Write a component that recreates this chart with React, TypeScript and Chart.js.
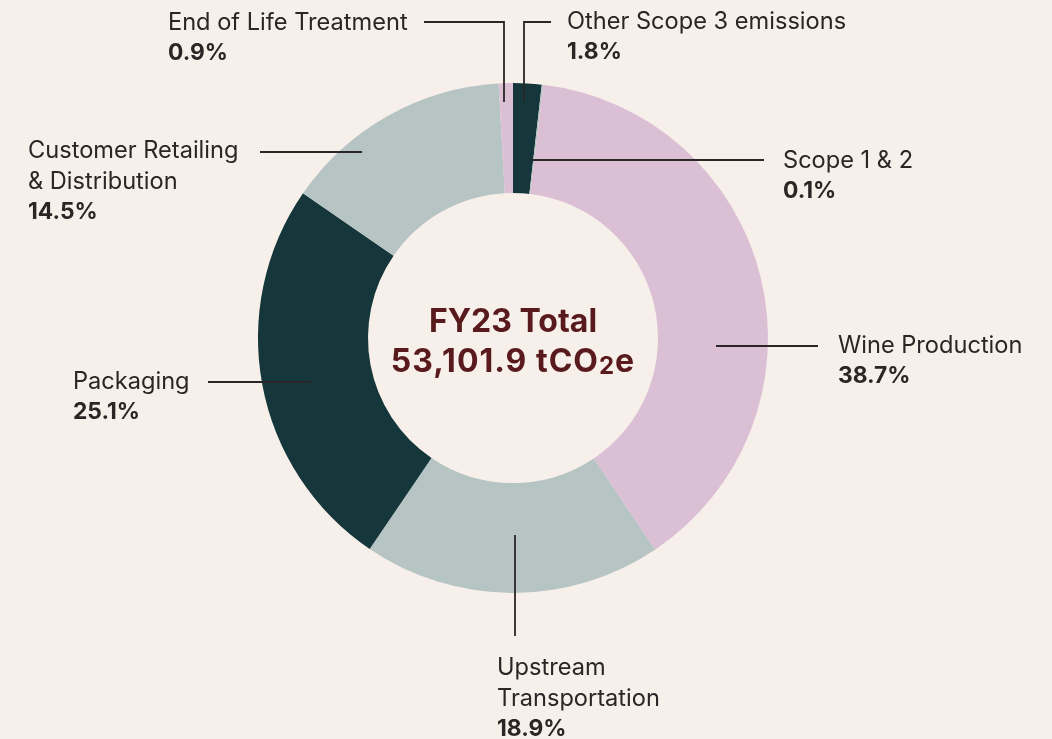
import React, { useEffect, useRef } from "react";
import { Chart, registerables } from "chart.js";

Chart.register(...registerables);

// ---- data ----
const categories = [
  "Other Scope 3 emissions",
  "Scope 1 & 2",
  "Wine Production",
  "Upstream Transportation",
  "Packaging",
  "Customer Retailing & Distribution",
  "End of Life Treatment",
];
const shares = [1.8, 0.1, 38.7, 18.9, 25.1, 14.5, 0.9];
const labelLines = [
  ["Other Scope 3 emissions"],
  ["Scope 1 & 2"],
  ["Wine Production"],
  ["Upstream", "Transportation"],
  ["Packaging"],
  ["Customer Retailing", "& Distribution"],
  ["End of Life Treatment"],
];
const centerTitle = "FY23 Total";
const centerValue = ["53,101.9 tCO", "2", "e"];

// ---- styles ----
const DARK = "#15373b";
const SAGE = "#b6c5c4";
const PINK = "#dbbfd4";
const sliceColors = [DARK, SAGE, PINK, SAGE, DARK, SAGE, PINK];
const BG = "#f7efe9";
const TEXT = "#2a2626";
const CENTER = "#581a1c";
const FONT = "Inter, 'Noto Sans', sans-serif";

// label layout, as offsets from the doughnut centre: text position and leader polyline
const labelLayout = [
  { tx: 54, ty: -316, line: [[38, -316], [11, -316], [11, -236]] },
  { tx: 270, ty: -177, line: [[251, -178], [18, -178]] },
  { tx: 325, ty: 8, line: [[305, 8], [203, 8]] },
  { tx: -16, ty: 330, line: [[2, 298], [2, 197]] },
  { tx: -440, ty: 44, line: [[-305, 44], [-202, 44]] },
  { tx: -485, ty: -187, line: [[-253, -186], [-151, -186]] },
  { tx: -345, ty: -315, line: [[-89, -316], [-9, -316], [-9, -236]] },
];
const LINE_H = 30.5;

const labelPlugin = {
  id: "leaderLabels",
  afterDraw(chart: any) {
    const ctx = chart.ctx as CanvasRenderingContext2D;
    const meta = chart.getDatasetMeta(0);
    const arc = meta.data[0];
    if (!arc) return;
    const cx = arc.x;
    const cy = arc.y;
    ctx.save();
    ctx.strokeStyle = TEXT;
    ctx.lineWidth = 1.8;
    ctx.textBaseline = "middle";
    ctx.textAlign = "left";
    labelLayout.forEach((l, i) => {
      ctx.beginPath();
      l.line.forEach(([dx, dy], k) => {
        if (k === 0) ctx.moveTo(cx + dx, cy + dy);
        else ctx.lineTo(cx + dx, cy + dy);
      });
      ctx.stroke();
      ctx.fillStyle = TEXT;
      const lines = labelLines[i];
      ctx.font = `400 23.6px ${FONT}`;
      lines.forEach((t, k) => {
        ctx.fillText(t, cx + l.tx, cy + l.ty + k * LINE_H);
      });
      ctx.font = `700 22.8px ${FONT}`;
      ctx.fillText(
        shares[i].toFixed(1) + "%",
        cx + l.tx,
        cy + l.ty + lines.length * LINE_H
      );
    });

    // centre text
    ctx.fillStyle = CENTER;
    ctx.textAlign = "center";
    ctx.textBaseline = "alphabetic";
    ctx.font = `700 32px ${FONT}`;
    ctx.fillText(centerTitle, cx, cy - 6);
    const c: any = ctx;
    c.letterSpacing = "1px";
    const big = `700 32px ${FONT}`;
    const small = `700 24px ${FONT}`;
    ctx.font = big;
    const w1 = ctx.measureText(centerValue[0]).width;
    const w3 = ctx.measureText(centerValue[2]).width;
    ctx.font = small;
    const w2 = ctx.measureText(centerValue[1]).width;
    const total = w1 + w2 + w3;
    let x = cx - total / 2;
    const by = cy + 34;
    ctx.textAlign = "left";
    ctx.font = big;
    ctx.fillText(centerValue[0], x, by);
    x += w1;
    ctx.font = small;
    ctx.fillText(centerValue[1], x, by + 2);
    x += w2;
    ctx.font = big;
    ctx.fillText(centerValue[2], x, by);
    c.letterSpacing = "0px";
    ctx.restore();
  },
};

export default function App() {
  const ref = useRef<HTMLCanvasElement | null>(null);
  useEffect(() => {
    if (!ref.current) return;
    const chart = new Chart(ref.current, {
      type: "doughnut",
      data: {
        labels: categories,
        datasets: [
          {
            data: shares,
            backgroundColor: sliceColors,
            borderWidth: 0,
          },
        ],
      },
      options: {
        responsive: false,
        animation: false,
        cutout: 145,
        rotation: 0,
        layout: { padding: { left: 258, right: 284, top: 83, bottom: 146 } },
        plugins: {
          legend: { display: false },
          tooltip: { enabled: false },
        },
      },
      plugins: [labelPlugin],
    });
    return () => chart.destroy();
  }, []);
  return (
    <div
      style={{
        position: "fixed",
        left: 0,
        top: 0,
        width: 1052,
        height: 739,
        background: BG,
      }}
    >
      <canvas ref={ref} width={1052} height={739} />
    </div>
  );
}
